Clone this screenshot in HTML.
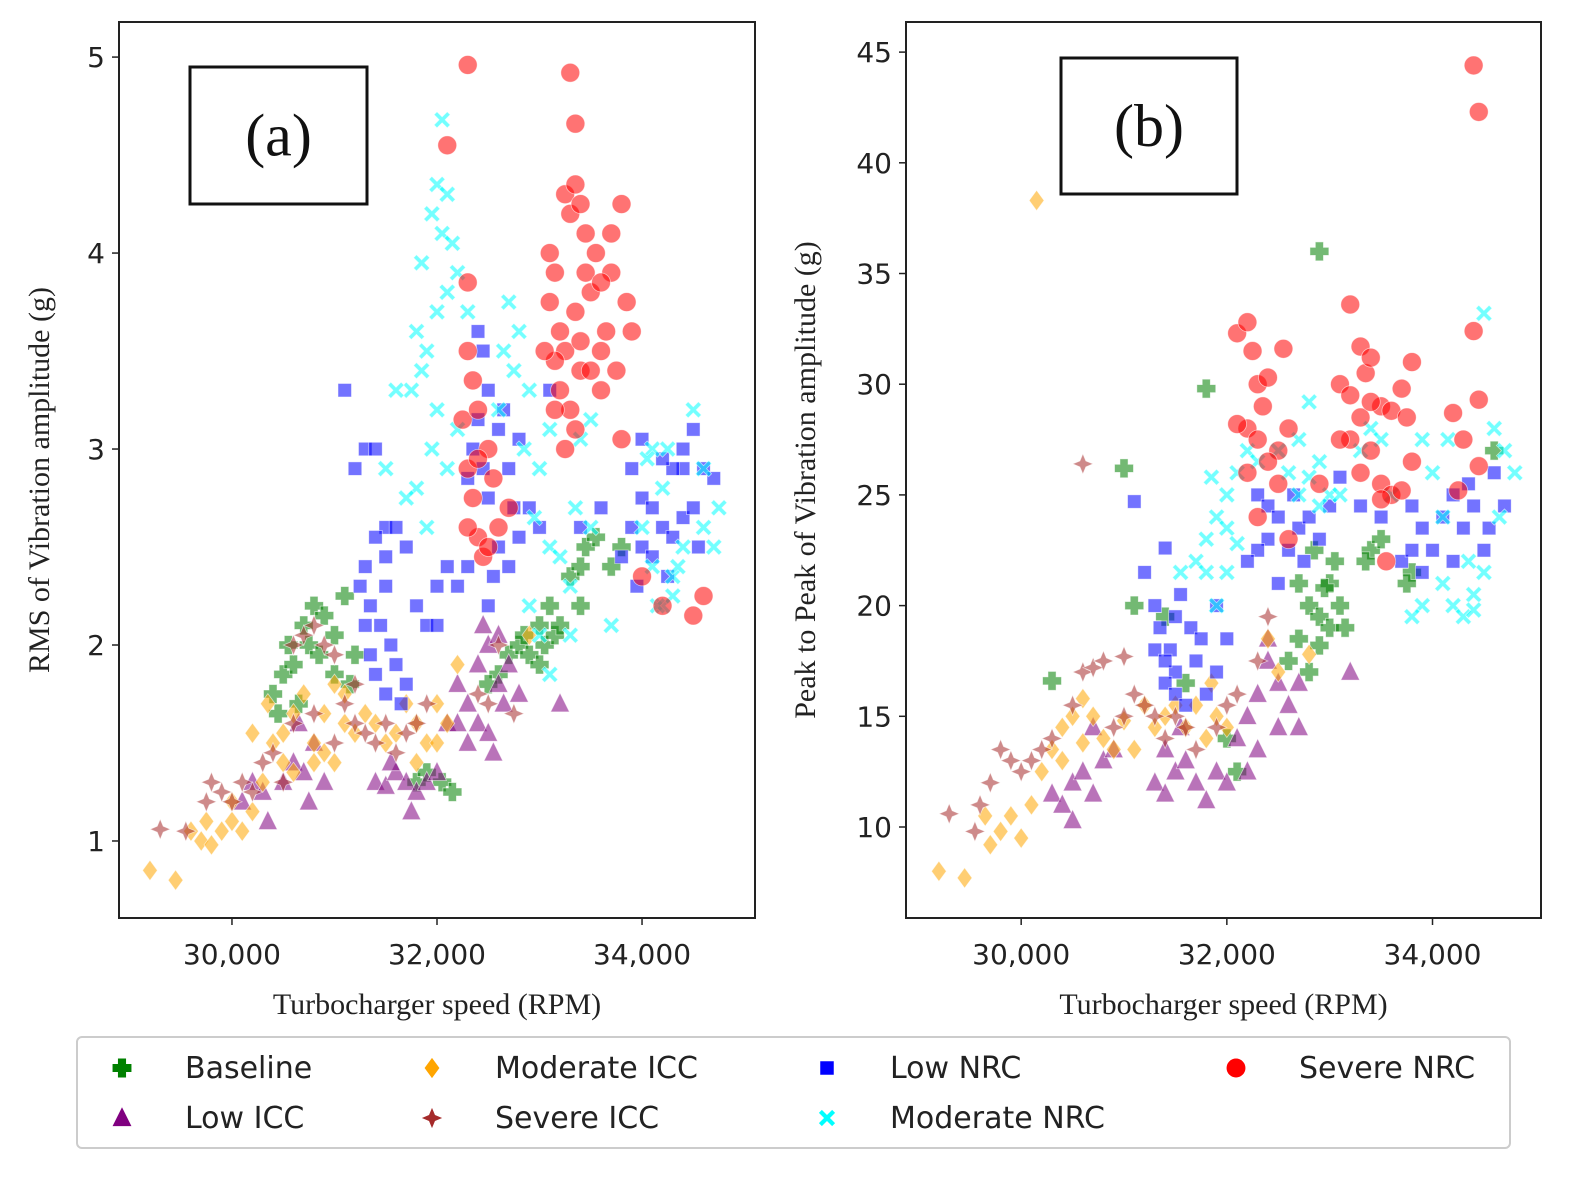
<!DOCTYPE html>
<html><head><meta charset="utf-8">
<style>
html,body{margin:0;padding:0;background:#fff;}
svg{display:block;}
.tick{font-family:"DejaVu Sans","Liberation Sans",sans-serif;font-size:28px;fill:#222;}
.lab{font-family:"Liberation Serif",serif;font-size:30px;fill:#222;}
.leg{font-family:"DejaVu Sans","Liberation Sans",sans-serif;font-size:30px;fill:#222;}
</style></head>
<body>
<svg id="chart" width="1586" height="1197" viewBox="0 0 1586 1197" xmlns="http://www.w3.org/2000/svg">
<g id="pa"></g>
<g id="pb"></g>
<g id="legend"></g>
</svg>
<script>
const seriesNames=["Baseline","Low ICC","Moderate ICC","Severe ICC","Low NRC","Moderate NRC","Severe NRC"];
const xTicks=[30000,32000,34000];
const xTickLabels=["30,000","32,000","34,000"];
const yTicksA=[1,2,3,4,5];
const yTicksB=[10,15,20,25,30,35,40,45];

// Panel (a) data [rpm, RMS g]
const aBaseline=[[30400,1.75],[30500,1.85],[30550,2.0],[30600,1.9],[30700,2.1],[30800,2.2],[30900,2.15],[31000,2.05],[31100,2.25],[30750,2.0],[30650,1.7],[30850,1.95],[31000,1.85],[31150,1.8],[31200,1.95],[30450,1.65],[31800,1.3],[31900,1.35],[32050,1.3],[32150,1.25],[32600,1.85],[32700,1.95],[32800,2.0],[32900,1.95],[33000,2.1],[33050,2.0],[33100,2.2],[33150,2.05],[33000,1.9],[33200,2.1],[33300,2.35],[33400,2.4],[33450,2.5],[33550,2.55],[33700,2.4],[33800,2.5],[33400,2.2],[32850,2.05],[32500,1.8]];
const aLowICC=[[30100,1.2],[30200,1.3],[30300,1.25],[30350,1.1],[30500,1.3],[30600,1.4],[30700,1.35],[30650,1.6],[30800,1.5],[30900,1.3],[30750,1.2],[31400,1.3],[31500,1.28],[31600,1.35],[31700,1.3],[31750,1.15],[31800,1.25],[31900,1.3],[32000,1.35],[31550,1.4],[32100,1.6],[32200,1.8],[32300,1.7],[32400,1.9],[32500,2.0],[32600,2.05],[32400,1.6],[32500,1.55],[32300,1.5],[32600,1.8],[32700,1.9],[32550,1.45],[32800,1.75],[32650,1.7],[33200,1.7],[32450,2.1],[32200,1.6]];
const aModICC=[[29200,0.85],[29450,0.8],[29600,1.05],[29700,1.0],[29800,0.98],[29900,1.05],[30000,1.1],[30100,1.05],[30200,1.15],[29750,1.1],[30000,1.2],[30300,1.3],[30400,1.5],[30500,1.55],[30600,1.65],[30700,1.75],[30500,1.4],[30600,1.35],[30800,1.5],[30900,1.65],[31000,1.8],[30900,1.45],[31100,1.6],[31200,1.55],[31300,1.65],[31400,1.6],[31500,1.5],[30800,1.4],[31000,1.4],[31600,1.55],[31800,1.6],[31900,1.5],[32000,1.5],[31800,1.4],[32100,1.6],[32000,1.7],[32200,1.9],[32900,2.05],[30200,1.55],[30350,1.7],[31100,1.75],[31700,1.7]];
const aSevICC=[[29300,1.06],[29550,1.05],[29750,1.2],[29800,1.3],[29900,1.25],[30000,1.2],[30100,1.3],[30200,1.25],[30300,1.4],[30400,1.45],[30600,1.6],[30600,2.0],[30700,2.05],[30800,2.1],[30900,2.0],[31000,1.95],[31100,1.7],[31200,1.6],[31300,1.55],[31400,1.5],[31500,1.6],[31600,1.45],[31700,1.55],[31800,1.6],[31900,1.7],[31000,1.5],[30800,1.65],[32400,1.75],[32500,1.7],[32750,1.65],[32600,2.0],[30500,1.3],[31200,1.8]];
const aLowNRC=[[31100,3.3],[31200,2.9],[31300,3.0],[31400,3.0],[31500,2.6],[31400,2.55],[31300,2.4],[31350,2.2],[31450,2.1],[31500,2.3],[31550,2.0],[31600,1.9],[31400,1.85],[31500,1.75],[31650,1.7],[31700,1.8],[31300,2.1],[31250,2.3],[31600,2.6],[31700,2.5],[31500,2.45],[31350,1.95],[31800,2.2],[31900,2.1],[32000,2.3],[32100,2.4],[32000,2.1],[32400,3.6],[32450,3.5],[32500,3.3],[32400,3.15],[32350,3.0],[32450,2.9],[32500,2.75],[32600,3.1],[32650,3.2],[32700,2.9],[32750,2.7],[32600,2.5],[32550,2.35],[32300,2.85],[32800,3.05],[32800,2.55],[32900,2.7],[33000,2.6],[32200,2.3],[32300,2.4],[32500,2.2],[32700,2.4],[33100,3.3],[33400,2.6],[33600,2.7],[33900,2.6],[33900,2.9],[34000,2.75],[34100,2.7],[34200,2.6],[34000,2.5],[34100,2.45],[34300,2.55],[34400,2.65],[34500,2.7],[34600,2.9],[34700,2.85],[34400,2.9],[34500,3.1],[34300,2.9],[34200,2.95],[34000,3.05],[33800,2.45],[34250,2.35],[34400,3.0],[34550,2.5],[33950,2.3]];
const aModNRC=[[32050,4.68],[32000,4.35],[32100,4.3],[31950,4.2],[32050,4.1],[32150,4.05],[32200,3.9],[31850,3.95],[31800,3.6],[31900,3.5],[32000,3.7],[32100,3.8],[31750,3.3],[31850,3.4],[32000,3.2],[31950,3.0],[31800,2.8],[31700,2.75],[31900,2.6],[32100,2.9],[32200,3.1],[31600,3.3],[32300,3.7],[32700,3.75],[32650,3.5],[32800,3.6],[32900,3.3],[32750,3.4],[32600,3.2],[32850,3.0],[33000,2.9],[33100,3.1],[32950,2.65],[33100,2.5],[33200,2.45],[33300,2.3],[33350,2.7],[33500,2.6],[32900,2.2],[33000,2.05],[33100,1.85],[33300,2.05],[33400,3.05],[33500,3.15],[31500,2.9],[33700,2.1],[34200,2.2],[34300,2.25],[34100,2.4],[34400,2.5],[34600,2.6],[34500,3.2],[34700,2.5],[34750,2.7],[34200,2.8],[34300,2.35],[34600,2.9],[34000,2.6],[34150,2.2],[34350,2.4],[34100,3.0],[34250,3.0],[34050,2.95]];
const aSevNRC=[[32300,4.96],[33300,4.92],[33350,4.66],[32100,4.55],[33800,3.05],[34200,2.2],[34500,2.15],[34600,2.25],[34000,2.35],[33100,4.0],[33150,3.9],[33200,3.6],[33250,4.3],[33300,4.2],[33350,4.35],[33400,4.25],[33450,3.9],[33500,3.8],[33600,3.5],[33700,4.1],[33800,4.25],[33850,3.75],[33900,3.6],[33200,3.3],[33300,3.2],[33400,3.4],[33500,3.4],[33600,3.3],[33650,3.6],[33700,3.9],[33750,3.4],[33250,3.5],[33350,3.7],[33150,3.45],[33050,3.5],[33100,3.75],[33450,4.1],[33550,4.0],[33350,3.1],[33250,3.0],[33150,3.2],[33600,3.85],[33400,3.55],[32300,3.85],[32300,3.5],[32250,3.15],[32300,2.9],[32350,2.75],[32400,2.55],[32450,2.45],[32500,2.5],[32600,2.6],[32700,2.7],[32550,2.85],[32500,3.0],[32400,3.2],[32350,3.35],[32300,2.6],[32400,2.95]];

// Panel (b) data [rpm, peak-to-peak g]
const bBaseline=[[32900,36],[31800,29.8],[31000,26.2],[31100,20],[30300,16.6],[31400,19.5],[31600,16.5],[32700,21],[32800,20],[32900,19.5],[33000,19],[33100,20],[33000,21],[32850,22.5],[32700,18.5],[32600,17.5],[32900,18.2],[33050,22],[33400,22.5],[33500,23],[33350,22],[33800,21.5],[33750,21],[34600,27],[32100,12.5],[32000,14],[32800,17],[33150,19],[32950,20.8]];
const bLowICC=[[30300,11.5],[30400,11],[30500,10.3],[30500,12],[30600,12.5],[30700,11.5],[30800,13],[30900,13.5],[30700,14.5],[31300,12],[31400,11.5],[31500,12.5],[31600,13],[31700,12],[31800,11.2],[31900,12.5],[31400,13.5],[32000,12],[32100,14],[32200,15],[32300,16],[32400,17.5],[32500,16.5],[32600,15.5],[32700,14.5],[32300,13.5],[32500,14.5],[32400,18.5],[32700,16.5],[33200,17],[32200,12.5],[31550,14.5]];
const bModICC=[[29200,8],[29450,7.7],[29650,10.5],[29700,9.2],[29800,9.8],[29900,10.5],[30000,9.5],[30100,11],[30200,12.5],[30300,13.5],[30400,14.5],[30500,15],[30600,15.8],[30700,15],[30800,14],[30900,13.5],[31000,14.8],[31100,13.5],[31200,15.5],[31300,14.5],[31500,15.5],[31600,14.5],[31700,15.5],[31800,14],[31900,15],[32000,14.5],[31850,16.5],[30150,38.3],[30400,13],[30600,13.8],[31400,15],[32400,18.5],[32500,17],[32800,17.8]];
const bSevICC=[[29300,10.6],[29550,9.8],[29600,11],[29700,12],[29800,13.5],[29900,13],[30000,12.5],[30100,13],[30200,13.5],[30300,14],[30500,15.5],[30600,26.4],[30600,17],[30700,17.2],[30800,17.5],[31000,17.7],[31100,16],[31200,15.5],[31300,15],[31400,14],[31500,15],[31600,14.5],[31700,13.5],[31900,14.5],[32000,15.5],[32100,16],[32300,17.5],[32400,19.5],[31000,15],[30900,14.5]];
const bLowNRC=[[31100,24.7],[31200,21.5],[31300,20],[31400,22.6],[31350,19],[31450,18],[31500,17],[31400,16.5],[31500,16],[31600,15.5],[31700,17.5],[31650,19],[31550,20.5],[31300,18],[31400,17.5],[31750,18.5],[31800,16],[31500,19.5],[31900,20],[32000,18.5],[31900,17],[32300,25],[32400,23],[32300,22.5],[32400,24.5],[32500,24],[32600,22.5],[32700,23.5],[32800,24],[32200,22],[32500,21],[32650,25],[32750,22],[33000,24.5],[33100,25.8],[33300,24.5],[33500,24],[33700,22],[33800,24.5],[33900,23.5],[34000,22.5],[34100,24],[34200,25],[34300,23.5],[34400,24.5],[34500,22.5],[34600,26],[34700,24.5],[33900,21.5],[34200,22],[34350,25.5],[34550,23.5],[33800,22.5],[32900,23]];
const bModNRC=[[31800,23],[31900,24],[32000,25],[32100,26],[31700,22],[31800,21.5],[31900,20],[32000,23.5],[32100,22.8],[31850,25.8],[32200,27],[32300,26.5],[32500,27],[32600,26],[32700,27.5],[32800,29.2],[32700,25],[32800,25.8],[32900,26.5],[33000,25],[32900,24.5],[33300,27],[33400,28],[33500,27.5],[33600,25],[33900,27.5],[34000,26],[34100,21],[34200,20],[34300,19.5],[34400,20.5],[34500,21.5],[34600,28],[34700,27],[34800,26],[34500,33.2],[34100,24],[34350,22],[34650,24],[33900,20],[33800,19.5],[34150,27.5],[31550,21.5],[33100,25],[34400,19.8],[32000,21.5]];
const bSevNRC=[[32100,32.3],[32200,32.8],[32250,31.5],[32300,30],[32400,30.3],[32350,29],[32200,28],[32100,28.2],[32300,27.5],[32500,27],[32600,28],[32550,31.6],[32400,26.5],[32300,24],[32200,26],[32500,25.5],[32600,23],[33200,33.6],[33100,30],[33300,31.7],[33350,30.5],[33400,31.2],[33200,29.5],[33300,28.5],[33500,29],[33600,28.8],[33700,29.8],[33800,31],[33750,28.5],[33400,27],[33300,26],[33200,27.5],[33500,25.5],[33600,25],[33700,25.2],[33800,26.5],[33100,27.5],[33400,29.2],[33500,24.8],[34200,28.7],[34300,27.5],[34400,44.4],[34450,42.3],[34400,32.4],[34450,29.3],[34450,26.3],[34250,25.2],[33550,22],[32900,25.5]];

const NS="http://www.w3.org/2000/svg";
function mk(tag,attrs,parent){const e=document.createElementNS(NS,tag);for(const k in attrs)e.setAttribute(k,attrs[k]);parent.appendChild(e);return e;}

const styles=[
 {c:"#008000",shape:"plus"},{c:"#800080",shape:"tri"},{c:"#ffa500",shape:"diamond"},
 {c:"#a52a2a",shape:"star"},{c:"#0000ff",shape:"square"},{c:"#00ffff",shape:"x"},{c:"#ff0000",shape:"circle"}];

function marker(g,shape,color,x,y,s,op){
 let e;
 const a={fill:color,"fill-opacity":op,stroke:"#fff","stroke-width":0.8,"stroke-opacity":0.6};
 if(shape==="circle"){e=mk("circle",Object.assign({cx:x,cy:y,r:7*s},a),g);}
 else if(shape==="square"){e=mk("rect",Object.assign({x:x-5*s,y:y-5*s,width:10*s,height:10*s},a),g);}
 else if(shape==="diamond"){e=mk("polygon",Object.assign({points:`${x},${y-7.5*s} ${x+5.5*s},${y} ${x},${y+7.5*s} ${x-5.5*s},${y}`},a),g);}
 else if(shape==="tri"){e=mk("polygon",Object.assign({points:`${x},${y-8*s} ${x+7*s},${y+6*s} ${x-7*s},${y+6*s}`},a),g);}
 else if(shape==="star"){const r=7.5*s,q=2.2*s;e=mk("polygon",Object.assign({points:`${x},${y-r} ${x+q},${y-q} ${x+r},${y} ${x+q},${y+q} ${x},${y+r} ${x-q},${y+q} ${x-r},${y} ${x-q},${y-q}`},a),g);}
 else if(shape==="plus"){const w=3*s,r=7*s;e=mk("path",Object.assign({d:`M${x-w},${y-r}H${x+w}V${y-w}H${x+r}V${y+w}H${x+w}V${y+r}H${x-w}V${y+w}H${x-r}V${y-w}H${x-w}Z`},a),g);}
 else if(shape==="x"){const r=6*s,w=2.2*s;e=mk("path",Object.assign({d:`M${x-r},${y-r+w}L${x-r+w},${y-r}L${x},${y-w}L${x+r-w},${y-r}L${x+r},${y-r+w}L${x+w},${y}L${x+r},${y+r-w}L${x+r-w},${y+r}L${x},${y+w}L${x-r+w},${y+r}L${x-r},${y+r-w}L${x-w},${y}Z`},a),g);}
 return e;
}

function panel(gid,box,xd,yd,yTicks,series,ylabel,tag,tagBox,yFmt){
 const g=document.getElementById(gid);
 const sx=v=>box.x0+(v-xd[0])/(xd[1]-xd[0])*(box.x1-box.x0);
 const sy=v=>box.y1-(v-yd[0])/(yd[1]-yd[0])*(box.y1-box.y0);
 const pts=mk("g",{},g);
 series.forEach((arr,i)=>{
  const sg=mk("g",{},pts);
  
  
  arr.forEach(p=>{
   const m=marker(sg,styles[i].shape,styles[i].c,sx(p[0]),sy(p[1]),1.35,0.55);
   
   
  });
 });
 const fr=mk("rect",{x:box.x0,y:box.y0,width:box.x1-box.x0,height:box.y1-box.y0,fill:"none",stroke:"#222","stroke-width":2},g);
 
 
 xTicks.forEach((t,i)=>{
  const x=sx(t);
  mk("line",{x1:x,x2:x,y1:box.y1,y2:box.y1+7,stroke:"#222","stroke-width":1.5},g);
  const tx=mk("text",{x:x,y:box.y1+46,"text-anchor":"middle",class:"tick"},g);
  tx.textContent=xTickLabels[i];
  
  
 });
 yTicks.forEach(t=>{
  const y=sy(t);
  mk("line",{x1:box.x0-7,x2:box.x0,y1:y,y2:y,stroke:"#222","stroke-width":1.5},g);
  const tx=mk("text",{x:box.x0-14,y:y+10,"text-anchor":"end",class:"tick"},g);
  tx.textContent=yFmt(t);
  
  
 });
 const xl=mk("text",{x:(box.x0+box.x1)/2,y:1014,"text-anchor":"middle",class:"lab"},g);
 xl.textContent="Turbocharger speed (RPM)";
 
 
 const ylx=box.ylx, lyc=(box.y0+box.y1)/2+10;
 const yl=mk("text",{x:ylx,y:lyc,"text-anchor":"middle",class:"lab",transform:`rotate(-90 ${ylx} ${lyc})`},g);
 yl.textContent=ylabel;
 
 
 const tb=mk("rect",{x:tagBox[0],y:tagBox[1],width:tagBox[2],height:tagBox[3],fill:"#fff",stroke:"#111","stroke-width":3},g);
 
 
 const tt=mk("text",{x:tagBox[0]+tagBox[2]/2,y:tagBox[1]+tagBox[3]/2+20,"text-anchor":"middle","font-family":"Liberation Serif, serif","font-size":60,fill:"#111"},g);
 tt.textContent=tag;
 
 
}

panel("pa",{x0:119,x1:755,y0:22,y1:918,ylx:49},[28898,35102],[0.607,5.179],yTicksA,
 [aBaseline,aLowICC,aModICC,aSevICC,aLowNRC,aModNRC,aSevNRC],"RMS of Vibration amplitude (g)","(a)",[190,67,177,137],t=>String(t));
panel("pb",{x0:906,x1:1541,y0:22,y1:918,ylx:815},[28880,35055],[5.89,46.36],yTicksB,
 [bBaseline,bLowICC,bModICC,bSevICC,bLowNRC,bModNRC,bSevNRC],"Peak to Peak of Vibration amplitude (g)","(b)",[1061,58,176,136],t=>String(t));

// legend
const lg=document.getElementById("legend");
const lf=mk("rect",{x:77,y:1037,width:1433,height:111,rx:5,fill:"#fff",stroke:"#ccc","stroke-width":2},lg);


const legPos=[[122,1068],[122,1118],[432,1068],[432,1118],[827,1068],[827,1118],[1236,1068]];
legPos.forEach((p,i)=>{
 const eg=mk("g",{},lg);
 
 
 const m=marker(eg,styles[i].shape,styles[i].c,p[0],p[1],1.35,1);
 m.setAttribute('stroke','none');
 const t=mk("text",{x:p[0]+63,y:p[1]+10,class:"leg"},eg);
 t.textContent=seriesNames[i];
});
</script>
</body></html>
